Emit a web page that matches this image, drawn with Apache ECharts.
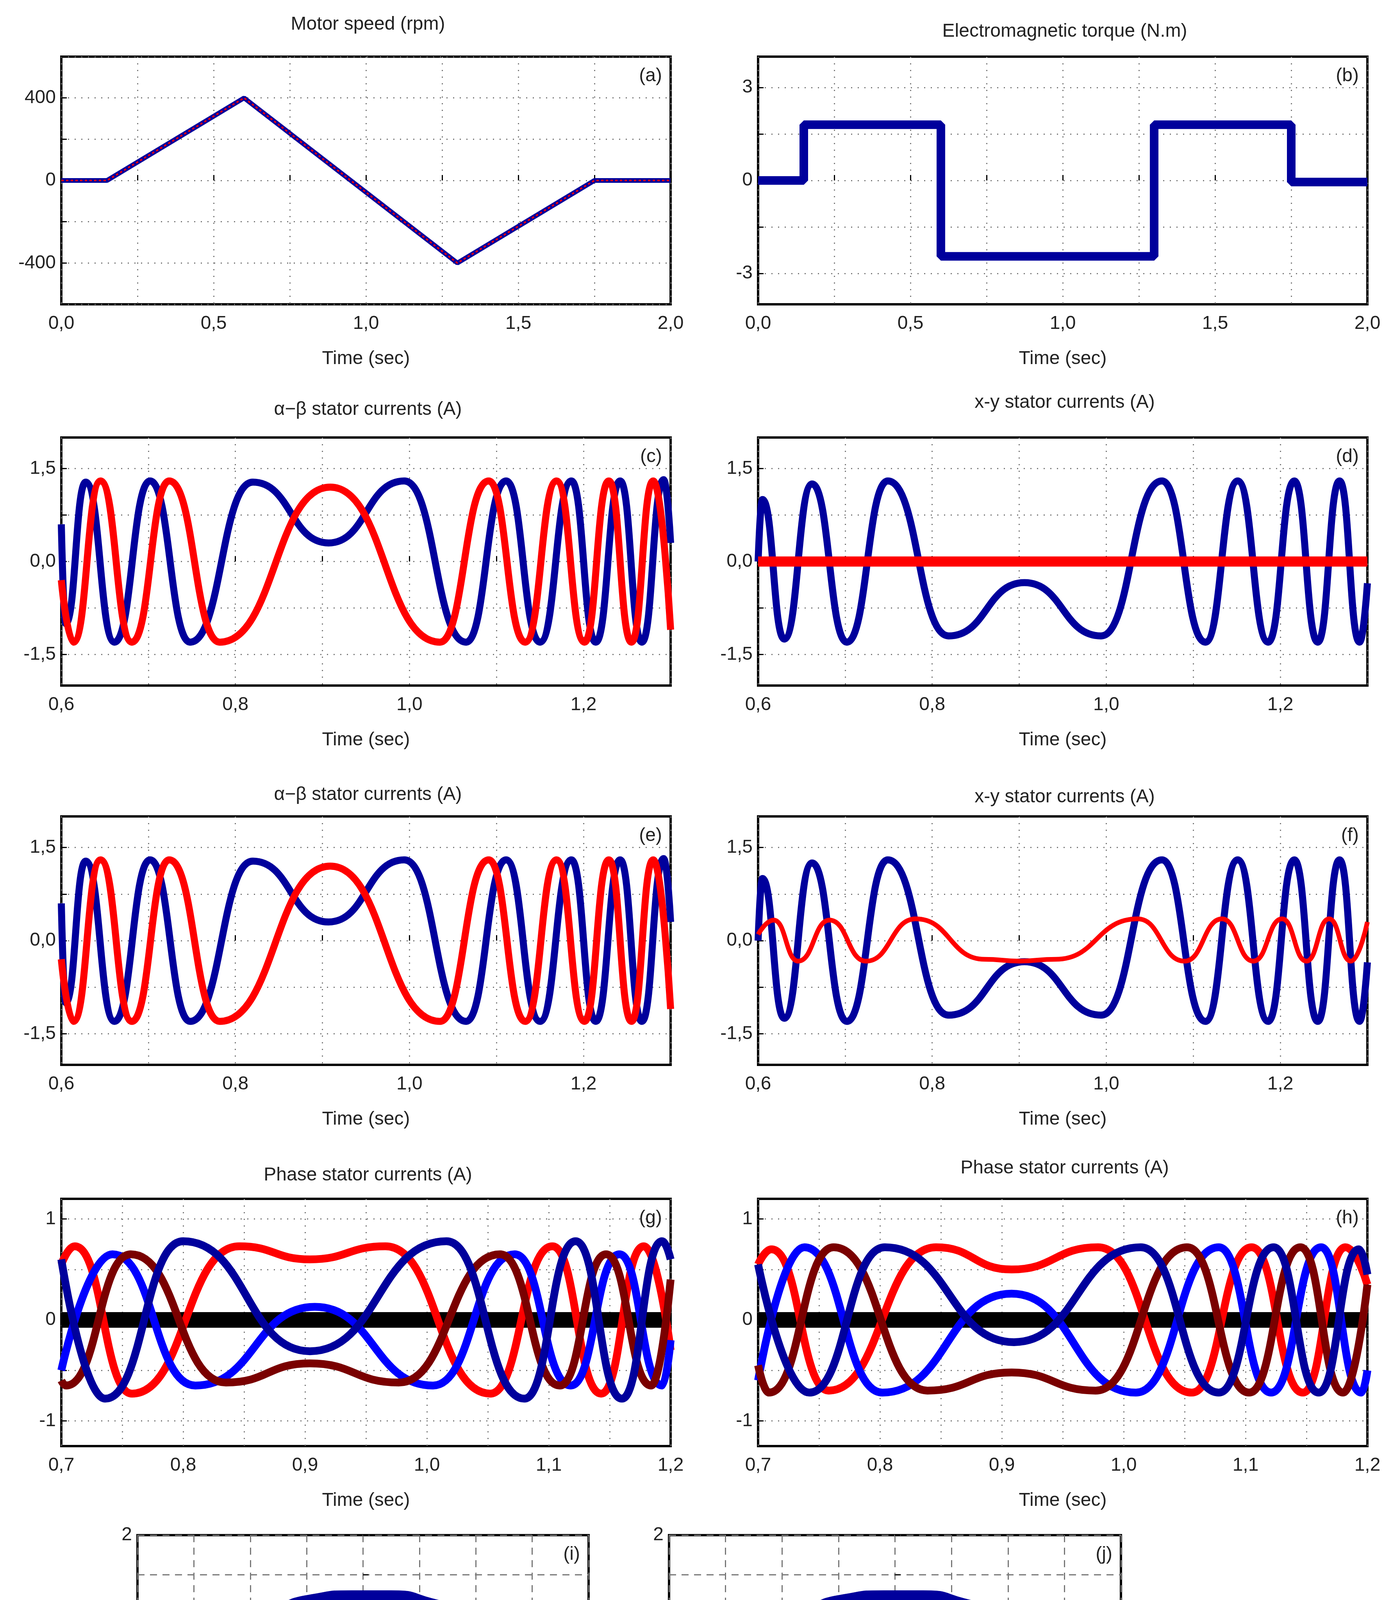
<!DOCTYPE html>
<html>
<head>
<meta charset="utf-8">
<script src="https://cdn.jsdelivr.net/npm/echarts@6/dist/echarts.min.js"></script>
<style>html,body{margin:0;background:#fff;overflow:hidden}#c{width:3564px;height:4920px}</style>
</head>
<body>
<div id="c"></div>
<script>
// (a) motor speed
var speedT = [0, 0.15, 0.6, 1.3, 1.75, 2.0];
var speedV = [0, 0, 400, -400, 0, 0];
// (b) torque
var torqueT = [0, 0.15, 0.15, 0.6, 0.6, 1.3, 1.3, 1.75, 1.75, 2.0];
var torqueV = [0, 0, 1.8, 1.8, -2.45, -2.45, 1.8, 1.8, -0.05, -0.05];
// (c),(e) alpha-beta
var abBlueT = [0.6, 0.605, 0.628, 0.661, 0.702, 0.748, 0.82, 0.907, 0.994, 1.065, 1.111, 1.15, 1.186, 1.214, 1.242, 1.267, 1.292, 1.3];
var abBlueV = [0.6, -1.0, 1.28, -1.3, 1.3, -1.3, 1.28, 0.3, 1.3, -1.3, 1.3, -1.3, 1.3, -1.3, 1.3, -1.3, 1.32, 0.3];
var abRedT = [0.6, 0.614, 0.645, 0.681, 0.724, 0.782, 0.909, 1.035, 1.091, 1.133, 1.169, 1.201, 1.229, 1.255, 1.28, 1.3];
var abRedV = [-0.3, -1.3, 1.3, -1.3, 1.3, -1.3, 1.2, -1.3, 1.3, -1.3, 1.3, -1.3, 1.3, -1.3, 1.3, -1.1];
// (d),(f) x-y
var xyBlueT = [0.6, 0.605, 0.63, 0.662, 0.702, 0.749, 0.819, 0.906, 0.994, 1.064, 1.114, 1.151, 1.186, 1.216, 1.243, 1.268, 1.291, 1.3];
var xyBlueV = [0, 1.0, -1.25, 1.25, -1.3, 1.3, -1.2, -0.34, -1.2, 1.3, -1.3, 1.3, -1.3, 1.3, -1.3, 1.3, -1.3, -0.35];
var xyRedDT = [0.6, 1.3];
var xyRedDV = [0, 0];
var xyRedFT = [0.6, 0.618, 0.646, 0.682, 0.724, 0.781, 0.86, 0.9, 0.942, 1.036, 1.09, 1.133, 1.169, 1.202, 1.23, 1.256, 1.281, 1.3];
var xyRedFV = [0.1, 0.33, -0.33, 0.33, -0.33, 0.35, -0.3, -0.33, -0.3, 0.35, -0.33, 0.35, -0.33, 0.35, -0.33, 0.35, -0.33, 0.3];
// (g) phase currents
var gRedT = [0.7, 0.711, 0.758, 0.846, 0.904, 0.966, 1.052, 1.103, 1.143, 1.178, 1.2];
var gRedV = [0.55, 0.73, -0.73, 0.73, 0.6, 0.73, -0.73, 0.73, -0.73, 0.73, -0.3];
var gNavyT = [0.7, 0.736, 0.8, 0.904, 1.016, 1.08, 1.122, 1.16, 1.193, 1.2];
var gNavyV = [0.6, -0.78, 0.78, -0.31, 0.78, -0.78, 0.78, -0.78, 0.78, 0.6];
var gBlueT = [0.7, 0.742, 0.81, 0.908, 1.005, 1.072, 1.118, 1.158, 1.193, 1.2];
var gBlueV = [-0.5, 0.65, -0.65, 0.13, -0.65, 0.65, -0.65, 0.65, -0.65, -0.2];
var gMaroonT = [0.7, 0.704, 0.757, 0.835, 0.904, 0.977, 1.06, 1.109, 1.147, 1.184, 1.2];
var gMaroonV = [-0.6, -0.65, 0.65, -0.62, -0.43, -0.62, 0.65, -0.65, 0.65, -0.65, 0.4];
// (h) phase currents
var hRedT = [0.7, 0.711, 0.758, 0.846, 0.908, 0.979, 1.056, 1.105, 1.147, 1.182, 1.2];
var hRedV = [0.55, 0.7, -0.7, 0.72, 0.5, 0.72, -0.72, 0.72, -0.72, 0.72, 0.35];
var hNavyT = [0.7, 0.742, 0.804, 0.91, 1.014, 1.078, 1.123, 1.16, 1.193, 1.2];
var hNavyV = [0.55, -0.72, 0.72, -0.22, 0.72, -0.72, 0.72, -0.72, 0.7, 0.45];
var hBlueT = [0.7, 0.738, 0.802, 0.908, 1.01, 1.078, 1.121, 1.162, 1.195, 1.2];
var hBlueV = [-0.6, 0.72, -0.72, 0.26, -0.72, 0.72, -0.72, 0.72, -0.72, -0.5];
var hMaroonT = [0.7, 0.709, 0.762, 0.839, 0.908, 0.977, 1.052, 1.103, 1.145, 1.18, 1.2];
var hMaroonV = [-0.45, -0.72, 0.72, -0.7, -0.52, -0.7, 0.72, -0.72, 0.72, -0.72, 0.35];
var neutralT = [0.7, 1.2];
var neutralV = [0, 0];
// (i),(j) current trajectories
var ellBlueX = [1.26, 1.22, 1.1, 0.9, 0.6, 0.25, -0.1, -0.45, -0.8, -1.05, -1.2, -1.27, -1.22, -1.08, -0.85, -0.5, -0.1, 0.3, 0.65, 0.95, 1.15, 1.24, 1.26];
var ellBlueY = [0, 0.35, 0.7, 0.95, 1.1, 1.2, 1.2, 1.15, 0.95, 0.7, 0.4, 0, -0.4, -0.75, -0.98, -1.15, -1.2, -1.15, -1.0, -0.75, -0.45, -0.2, 0];
var iRedX = [-1.33, 1.33];
var iRedY = [0, 0];
var jRedX = [1.32, 1.1, 0.6, 0, -0.6, -1.1, -1.32, -1.1, -0.6, 0, 0.6, 1.1, 1.32];
var jRedY = [0, 0.17, 0.27, 0.3, 0.27, 0.17, 0, -0.17, -0.27, -0.3, -0.27, -0.17, 0];

var NAVY = '#00009c', RED = '#ff0000', BLUE = '#0000ff', MAROON = '#7a0000';
var FONT = 'Liberation Sans, Arial, sans-serif';

function zip(a, b) { return a.map(function (v, i) { return [v, b[i]]; }); }
function comma(d) { return function (v) { return (+v).toFixed(d).replace('.', ','); }; }

var grids = [], xAxes = [], yAxes = [], series = [], titles = [], texts = [];
var L = 157, R = 1941, W = 1560;

function panel(left, top, w, h, xo, yo, letter) {
  var gi = grids.length;
  grids.push({left: left, top: top, width: w, height: h, show: true, borderColor: '#000', borderWidth: 6, backgroundColor: '#fff'});
  xAxes.push({
    gridIndex: gi, type: 'value', min: xo.min, max: xo.max, interval: xo.step,
    axisLine: {show: false},
    axisTick: {show: true, inside: true, length: 14, lineStyle: {color: '#000', width: 3}, customValues: xo.ticks},
    axisLabel: {fontSize: 48, color: '#222', fontFamily: FONT, margin: 26, customValues: xo.labels, formatter: xo.fmt},
    splitLine: {show: true, lineStyle: {color: '#777', width: 3, type: xo.dash || [3, 14]}},
    name: xo.name, nameLocation: 'middle', nameGap: xo.gap || 112,
    nameTextStyle: {fontSize: 48, color: '#222', fontFamily: FONT, rich: xo.rich}
  });
  yAxes.push({
    gridIndex: gi, type: 'value', min: yo.min, max: yo.max, interval: yo.step,
    axisLine: {show: false},
    axisTick: {show: true, inside: true, length: 14, lineStyle: {color: '#000', width: 3}, customValues: yo.ticks},
    axisLabel: {fontSize: 48, color: '#222', fontFamily: FONT, margin: 14, customValues: yo.labels, formatter: yo.fmt},
    splitLine: {show: true, lineStyle: {color: '#777', width: 3, type: yo.dash || [3, 14]}},
    name: yo.name, nameLocation: 'middle', nameGap: yo.gap || 60, nameRotate: 90,
    nameTextStyle: {fontSize: 48, color: '#222', fontFamily: FONT, rich: yo.rich}
  });
  texts.push({type: 'text', right: 3564 - (left + w) + 22, top: top + 26, z: 100,
    style: {text: letter, font: '48px ' + FONT, fill: '#222', textAlign: 'right'}});
  return gi;
}

function line(gi, data, color, width, extra) {
  var s = {type: 'line', xAxisIndex: gi, yAxisIndex: gi, data: data, symbol: 'none',
    smooth: 0.5, smoothMonotone: 'x', lineStyle: {color: color, width: width}, z: 3};
  for (var k in extra) s[k] = extra[k];
  series.push(s);
}

function title(text, cx, y) {
  titles.push({text: text, left: cx, top: y, textAlign: 'center',
    textStyle: {fontSize: 48, fontWeight: 'normal', color: '#222', fontFamily: FONT}});
}

var CL = L + W / 2, CR = R + W / 2;
var T2 = {min: 0, max: 2, step: 0.25, labels: [0, 0.5, 1, 1.5, 2], fmt: comma(1), name: 'Time (sec)', gap: 116};
var T6 = {min: 0.6, max: 1.3, step: 0.1, labels: [0.6, 0.8, 1.0, 1.2], fmt: comma(1), name: 'Time (sec)', gap: 116};
var T7 = {min: 0.7, max: 1.2, step: 0.05, labels: [0.7, 0.8, 0.9, 1.0, 1.1, 1.2], fmt: comma(1), name: 'Time (sec)', gap: 116};
var Y15 = {min: -2, max: 2, ticks: [-1.5, -0.75, 0, 0.75, 1.5], labels: [-1.5, 0, 1.5], fmt: comma(1)};

// row 1
var ga = panel(L, 145, W, 634, T2, {min: -600, max: 600, step: 200, labels: [-400, 0, 400]}, '(a)');
title('Motor speed (rpm)', CL, 34);
line(ga, zip(speedT, speedV), NAVY, 12, {smooth: false});
line(ga, zip(speedT, speedV), RED, 5, {smooth: false, lineStyle: {color: RED, width: 4, type: [6, 6]}});

var gb = panel(R, 145, W, 634, T2, {min: -4, max: 4, ticks: [-3, -1.5, 0, 1.5, 3], labels: [-3, 0, 3]}, '(b)');
title('Electromagnetic torque (N.m)', CR, 52);
line(gb, zip(torqueT, torqueV), NAVY, 22, {smooth: false});

// row 2
var gc = panel(L, 1120, W, 635, T6, Y15, '(c)');
title('\u03b1\u2212\u03b2 stator currents (A)', CL, 1020);
line(gc, zip(abBlueT, abBlueV), NAVY, 18);
line(gc, zip(abRedT, abRedV), RED, 18);

var gd = panel(R, 1120, W, 635, T6, Y15, '(d)');
title('x-y stator currents (A)', CR, 1002);
line(gd, zip(xyBlueT, xyBlueV), NAVY, 18);
line(gd, zip(xyRedDT, xyRedDV), RED, 26, {smooth: false});

// row 3
var ge = panel(L, 2090, W, 636, T6, Y15, '(e)');
title('\u03b1\u2212\u03b2 stator currents (A)', CL, 2006);
line(ge, zip(abBlueT, abBlueV), NAVY, 18);
line(ge, zip(abRedT, abRedV), RED, 18);

var gf = panel(R, 2090, W, 636, T6, Y15, '(f)');
title('x-y stator currents (A)', CR, 2012);
line(gf, zip(xyBlueT, xyBlueV), NAVY, 18);
line(gf, zip(xyRedFT, xyRedFV), RED, 12);

// row 4
var YP = {min: -1.25, max: 1.2, ticks: [-1, -0.5, 0, 0.5, 1], labels: [-1, 0, 1]};
var gg = panel(L, 3069, W, 633, T7, YP, '(g)');
title('Phase stator currents (A)', CL, 2980);
line(gg, zip(neutralT, neutralV), '#000', 40, {smooth: false});
line(gg, zip(gRedT, gRedV), RED, 20);
line(gg, zip(gBlueT, gBlueV), BLUE, 20);
line(gg, zip(gMaroonT, gMaroonV), MAROON, 20);
line(gg, zip(gNavyT, gNavyV), NAVY, 20);

var gh = panel(R, 3069, W, 633, T7, YP, '(h)');
title('Phase stator currents (A)', CR, 2962);
line(gh, zip(neutralT, neutralV), '#000', 40, {smooth: false});
line(gh, zip(hRedT, hRedV), RED, 20);
line(gh, zip(hBlueT, hBlueV), BLUE, 20);
line(gh, zip(hMaroonT, hMaroonV), MAROON, 20);
line(gh, zip(hNavyT, hNavyV), NAVY, 20);

// row 5
var richX = {i: {fontStyle: 'italic', fontSize: 48, fontFamily: FONT, color: '#222'}, s: {fontSize: 34, fontFamily: FONT, color: '#222', padding: [22, 0, 0, 0]}, n: {fontSize: 48, fontFamily: FONT, color: '#222'}};
var XI = {min: -2, max: 2, step: 0.5, labels: [-2, -1, 0, 1, 2], dash: [18, 14], gap: 110,
  name: '{i|i}{s|s\u03b1}{n|(A),}{i|i}{s|sx}{n|(A)}', rich: richX};
var YI = {min: -2, max: 2, step: 0.5, labels: [-2, -1, 0, 1, 2], dash: [18, 14], gap: 110,
  name: '{i|i}{s|s\u03b2}{n|(A),}{i|i}{s|sy}{n|(A)}', rich: richX};
var gi = panel(352, 3930, 1155, 806, XI, YI, '(i)');
line(gi, zip(ellBlueX, ellBlueY), NAVY, 40, {smoothMonotone: null, smooth: 0.6});
line(gi, zip(iRedX, iRedY), RED, 30, {smooth: false});

var gj = panel(1713, 3930, 1157, 806, XI, YI, '(j)');
line(gj, zip(ellBlueX, ellBlueY), NAVY, 40, {smoothMonotone: null, smooth: 0.6});
line(gj, zip(jRedX, jRedY), RED, 22, {smoothMonotone: null, smooth: 0.6});

var chart = echarts.init(document.getElementById('c'));
chart.setOption({
  animation: false,
  backgroundColor: '#fff',
  title: titles,
  grid: grids,
  xAxis: xAxes,
  yAxis: yAxes,
  series: series,
  graphic: texts
});
</script>
</body>
</html>
